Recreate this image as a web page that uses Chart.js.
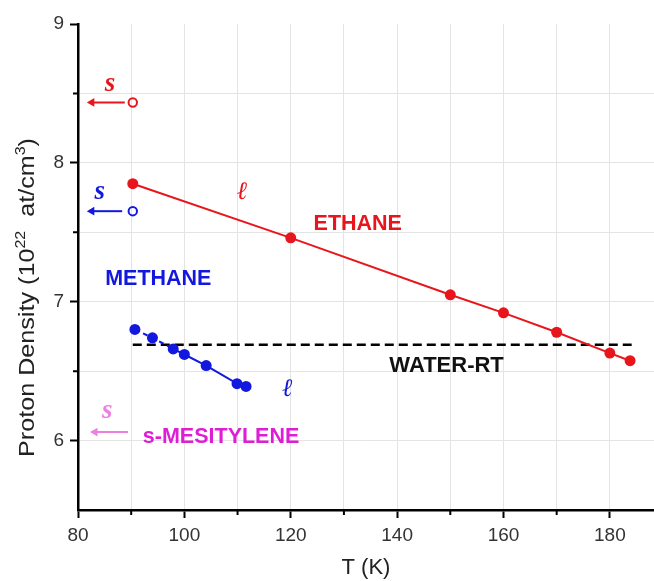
<!DOCTYPE html>
<html>
<head>
<meta charset="utf-8">
<script src="https://cdn.jsdelivr.net/npm/chart.js@4.4.1/dist/chart.umd.min.js"></script>
<style>
  html, body { margin: 0; padding: 0; background: #fff; }
  #wrap { width: 654px; height: 581px; }
</style>
</head>
<body>
<div id="wrap"><canvas id="densityPlot"></canvas></div>
<script>
// liquid ethane and methane proton densities vs temperature
const ethaneT = [90.3, 120, 150, 160, 170, 180, 183.8];
const ethaneRho = [7.85, 7.46, 7.05, 6.92, 6.78, 6.63, 6.575];

const methaneT = [90.7, 94.0, 97.9, 100, 104.1, 109.9, 111.6];
const methaneRho = [6.80, 6.74, 6.66, 6.62, 6.54, 6.41, 6.39];

// room temperature water reference level
const waterT = [90.3, 184.1];
const waterRho = [6.69, 6.69];

// solid phase values, shown as arrows at the left edge
const solidNames = ['ethane', 'methane', 'mesitylene'];
const solidRho = [8.435, 7.652, 6.061];
const arrowTail = [88.8, 88.3, 89.4];
const arrowHead = [82.6, 82.6, 83.2];
const openMarkT = [90.3, 90.3, null];

const xTicks = [80, 90, 100, 110, 120, 130, 140, 150, 160, 170, 180];
const yTicks = [5.5, 6, 6.5, 7, 7.5, 8, 8.5, 9];

const RED = 'rgb(232,22,28)';
const BLUE = 'rgb(18,24,222)';
const PINK = 'rgb(236,128,222)';
const MAGENTA = 'rgb(222,30,212)';

const solidColors = [RED, BLUE, PINK];

const SANS = '"Liberation Sans", Arial, sans-serif';
const SERIF = '"Liberation Serif", "DejaVu Serif", serif';

// text placed in data coordinates
const labels = [
  { text: 'ETHANE', x: 132.6, y: 7.56, color: RED, font: 'bold 21.5px ' + SANS },
  { text: 'METHANE', x: 95.1, y: 7.165, color: BLUE, font: 'bold 21.5px ' + SANS },
  { text: 'WATER-RT', x: 149.3, y: 6.534, color: '#111', font: 'bold 22px ' + SANS },
  { text: 's-MESITYLENE', x: 106.9, y: 6.025, color: MAGENTA, font: 'bold 21.5px ' + SANS },
  { text: 's', x: 86.0, y: 8.565, color: RED, font: 'italic bold 27px ' + SERIF },
  { text: 's', x: 84.1, y: 7.79, color: BLUE, font: 'italic bold 27px ' + SERIF },
  { text: 's', x: 85.5, y: 6.21, color: PINK, font: 'italic bold 27px ' + SERIF },
  { text: 'ℓ', x: 110.8, y: 7.79, color: RED, font: 'italic 25px "DejaVu Serif", serif' },
  { text: 'ℓ', x: 119.3, y: 6.37, color: BLUE, font: 'italic 25px "DejaVu Serif", serif' }
];

const toPts = (xs, ys) => xs.map((x, i) => ({ x: x, y: ys[i] }));

const datasets = [
  {
    data: toPts(ethaneT, ethaneRho),
    showLine: true,
    borderColor: RED,
    backgroundColor: RED,
    borderWidth: 2,
    pointRadius: 5.5,
    pointBorderWidth: 0
  },
  {
    data: toPts(methaneT, methaneRho),
    showLine: true,
    borderColor: BLUE,
    backgroundColor: BLUE,
    borderWidth: 2,
    pointRadius: 5.5,
    pointBorderWidth: 0,
    segment: {
      borderDash: ctx => ctx.p0DataIndex < 2 ? [5, 4] : undefined
    }
  },
  {
    data: toPts(waterT, waterRho),
    showLine: true,
    borderColor: '#000',
    borderWidth: 2.5,
    borderDash: [9, 5],
    pointRadius: 0
  }
];

solidNames.forEach((name, i) => {
  // arrow shaft with a triangle head pointing left
  datasets.push({
    data: [{ x: arrowTail[i], y: solidRho[i] }, { x: arrowHead[i], y: solidRho[i] }],
    showLine: true,
    borderColor: solidColors[i],
    backgroundColor: solidColors[i],
    borderWidth: 2,
    pointStyle: 'triangle',
    pointRotation: 270,
    pointRadius: [0, 5],
    pointBorderWidth: 0
  });
  if (openMarkT[i] !== null) {
    datasets.push({
      data: [{ x: openMarkT[i], y: solidRho[i] }],
      borderColor: solidColors[i],
      backgroundColor: 'rgba(0,0,0,0)',
      pointRadius: 4.2,
      pointBorderWidth: 2
    });
  }
});

const textLabels = {
  id: 'textLabels',
  afterDatasetsDraw(chart) {
    const { ctx, scales: { x, y } } = chart;
    ctx.save();
    ctx.textAlign = 'center';
    ctx.textBaseline = 'middle';
    labels.forEach(l => {
      ctx.font = l.font;
      ctx.fillStyle = l.color;
      ctx.fillText(l.text, x.getPixelForValue(l.x), y.getPixelForValue(l.y));
    });
    ctx.restore();
  }
};

// short ticks for the unlabelled steps
const minorTicks = {
  id: 'minorTicks',
  afterDraw(chart) {
    const { ctx, scales: { x, y } } = chart;
    ctx.save();
    ctx.strokeStyle = '#000';
    ctx.lineWidth = 2;
    ctx.beginPath();
    xTicks.filter(v => v % 20 !== 0).forEach(v => {
      const px = x.getPixelForValue(v);
      ctx.moveTo(px, y.bottom);
      ctx.lineTo(px, y.bottom + 5);
    });
    yTicks.filter(v => v % 1 !== 0 && v !== 5.5).forEach(v => {
      const py = y.getPixelForValue(v);
      ctx.moveTo(x.left, py);
      ctx.lineTo(x.left - 5, py);
    });
    ctx.stroke();
    ctx.restore();
  }
};

// rotated y title with raised exponents
const yTitle = {
  id: 'yTitle',
  afterDraw(chart) {
    const { ctx } = chart;
    const parts = [
      { t: 'Proton Density (10', size: 22, rise: 0 },
      { t: '22', size: 14, rise: 9 },
      { t: '  at/cm', size: 22, rise: 0 },
      { t: '3', size: 14, rise: 9 },
      { t: ')', size: 22, rise: 0 }
    ];
    const span = 319;
    ctx.save();
    let total = 0;
    parts.forEach(p => {
      ctx.font = p.size + 'px ' + SANS;
      p.w = ctx.measureText(p.t).width;
      total += p.w;
    });
    ctx.translate(34, 457);
    ctx.rotate(-Math.PI / 2);
    ctx.scale(span / total, 1);
    ctx.fillStyle = '#222';
    ctx.textBaseline = 'alphabetic';
    ctx.textAlign = 'left';
    let pos = 0;
    parts.forEach(p => {
      ctx.font = p.size + 'px ' + SANS;
      ctx.fillText(p.t, pos, -p.rise);
      pos += p.w;
    });
    ctx.restore();
  }
};

const tickFont = { family: SANS, size: 19 };

new Chart(document.getElementById('densityPlot'), {
  type: 'scatter',
  data: { datasets: datasets },
  options: {
    responsive: true,
    maintainAspectRatio: false,
    animation: false,
    layout: { autoPadding: false, padding: { top: 24, right: 0, left: 0, bottom: 0 } },
    plugins: {
      legend: { display: false },
      tooltip: { enabled: false }
    },
    scales: {
      x: {
        type: 'linear',
        min: 80,
        max: 188.3,
        afterBuildTicks: s => { s.ticks = xTicks.map(v => ({ value: v })); },
        afterFit: s => { s.height = 71; },
        ticks: {
          font: tickFont,
          color: '#333',
          padding: 6,
          maxRotation: 0,
          autoSkip: false,
          callback: v => v % 20 === 0 ? v : ''
        },
        grid: {
          color: ctx => ctx.tick && ctx.tick.value === 80 ? 'rgba(0,0,0,0)' : '#e4e4e4',
          lineWidth: 1,
          tickLength: 8,
          tickWidth: 2,
          tickColor: ctx => ctx.tick && ctx.tick.value % 20 === 0 ? '#000' : 'rgba(0,0,0,0)'
        },
        border: { color: '#000', width: 2.5 },
        title: {
          display: true,
          text: 'T (K)',
          font: { family: SANS, size: 22 },
          color: '#222',
          padding: { top: 3, bottom: 0 }
        }
      },
      y: {
        type: 'linear',
        min: 5.5,
        max: 9,
        afterBuildTicks: s => { s.ticks = yTicks.map(v => ({ value: v })); },
        afterFit: s => { s.width = 78; },
        ticks: {
          font: tickFont,
          color: '#333',
          padding: 6,
          autoSkip: false,
          callback: v => v % 1 === 0 ? v : ''
        },
        grid: {
          color: ctx => ctx.tick && (ctx.tick.value === 9 || ctx.tick.value === 5.5) ? 'rgba(0,0,0,0)' : '#e4e4e4',
          lineWidth: 1,
          tickLength: 8,
          tickWidth: 2,
          tickColor: ctx => ctx.tick && ctx.tick.value % 1 === 0 ? '#000' : 'rgba(0,0,0,0)'
        },
        border: { color: '#000', width: 2.5 }
      }
    }
  },
  plugins: [textLabels, minorTicks, yTitle]
});
</script>
</body>
</html>
